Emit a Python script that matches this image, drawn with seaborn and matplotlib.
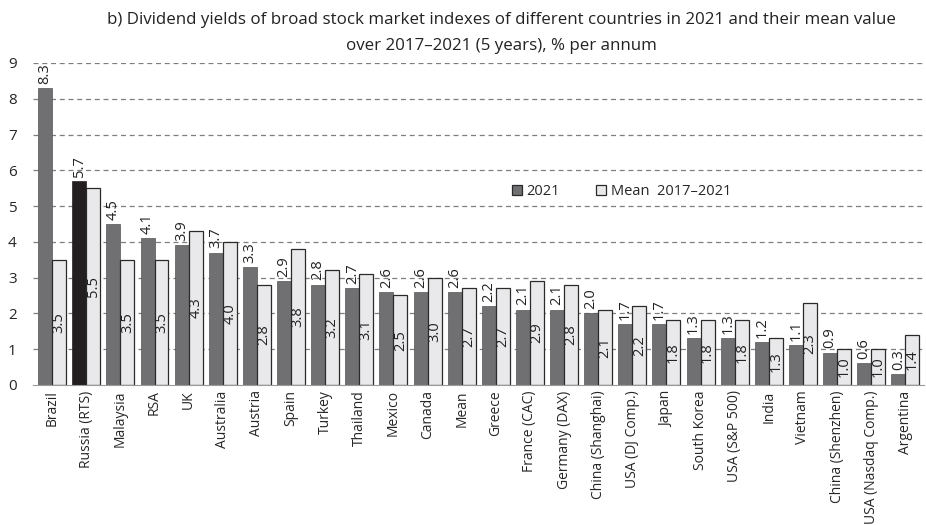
import pandas as pd
import seaborn as sns
import matplotlib.pyplot as plt

countries = ['Brazil', 'Russia (RTS)', 'Malaysia', 'RSA', 'UK', 'Australia', 'Austria',
             'Spain', 'Turkey', 'Thailand', 'Mexico', 'Canada', 'Mean', 'Greece',
             'France (CAC)', 'Germany (DAX)', 'China (Shanghai)', 'USA (DJ Comp.)',
             'Japan', 'South Korea', 'USA (S&P 500)', 'India', 'Vietnam',
             'China (Shenzhen)', 'USA (Nasdaq Comp.)', 'Argentina']
y2021 = [8.3, 5.7, 4.5, 4.1, 3.9, 3.7, 3.3, 2.9, 2.8, 2.7, 2.6, 2.6, 2.6, 2.2,
         2.1, 2.1, 2.0, 1.7, 1.7, 1.3, 1.3, 1.2, 1.1, 0.9, 0.6, 0.3]
mean_5y = [3.5, 5.5, 3.5, 3.5, 4.3, 4.0, 2.8, 3.8, 3.2, 3.1, 2.5, 3.0, 2.7, 2.7,
           2.9, 2.8, 2.1, 2.2, 1.8, 1.8, 1.8, 1.3, 2.3, 1.0, 1.0, 1.4]
series = ['2021', 'Mean  2017\u20132021']

df = pd.DataFrame({
    'country': countries * 2,
    'series': [series[0]] * len(countries) + [series[1]] * len(countries),
    'value': y2021 + mean_5y,
})

sns.set_style('white')
plt.rcParams['font.family'] = ['Open Sans', 'DejaVu Sans']

fig = plt.figure(figsize=(9.26, 5.25), dpi=100)
ax = fig.add_axes([0.036, 0.267, 0.962, 0.613])

for y in range(1, 10):
    ax.axhline(y, color='#7f7f7f', linestyle=(0, (4, 3)), linewidth=0.9, zorder=0)

sns.barplot(data=df, x='country', y='value', hue='series', ax=ax,
            palette={series[0]: '#707073', series[1]: '#e9e9eb'},
            width=0.82, gap=0, linewidth=0.9, edgecolor='#2a2a2a', zorder=2)

dark, light = ax.containers[0], ax.containers[1]
for p in dark:
    p.set_edgecolor('#555557')
    p.set_linewidth(0.5)
dark[1].set_facecolor('#231f20')
dark[1].set_edgecolor('#231f20')

for p, v in zip(dark, y2021):
    ax.text(p.get_x() + p.get_width() / 2, v + 0.12, f'{v:.1f}', rotation=90,
            ha='center', va='bottom', fontsize=10.5, color='#222222')
for p, v in zip(light, mean_5y):
    ax.text(p.get_x() + p.get_width() / 2, v / 2, f'{v:.1f}', rotation=90,
            ha='center', va='center', fontsize=10.5, color='#222222')

ax.set_ylim(0, 9)
ax.set_xlim(-0.55, len(countries) - 0.45)
ax.set_yticks(range(0, 10))
ax.tick_params(axis='y', labelsize=11, length=0, pad=12)
ax.tick_params(axis='x', labelsize=10, length=0, pad=4)
ax.set_xticks(range(len(countries)))
ax.set_xticklabels(countries, rotation=90)
ax.set_xlabel('')
ax.set_ylabel('')
for s in ['top', 'right', 'left']:
    ax.spines[s].set_visible(False)
ax.spines['bottom'].set_color('#9a9a9a')

leg = ax.legend(loc='center', bbox_to_anchor=(0.66, 0.6), ncol=2, frameon=False,
                fontsize=10.5, handlelength=0.7, handleheight=0.7,
                columnspacing=2.5, handletextpad=0.3)

fig.text(0.541, 0.962, 'b) Dividend yields of broad stock market indexes of different countries in 2021 and their mean value',
         ha='center', va='center', fontsize=12.2, color='#222222')
fig.text(0.541, 0.913, 'over 2017\u20132021 (5 years), % per annum',
         ha='center', va='center', fontsize=12.2, color='#222222')

fig.savefig('out.png', dpi=100)
